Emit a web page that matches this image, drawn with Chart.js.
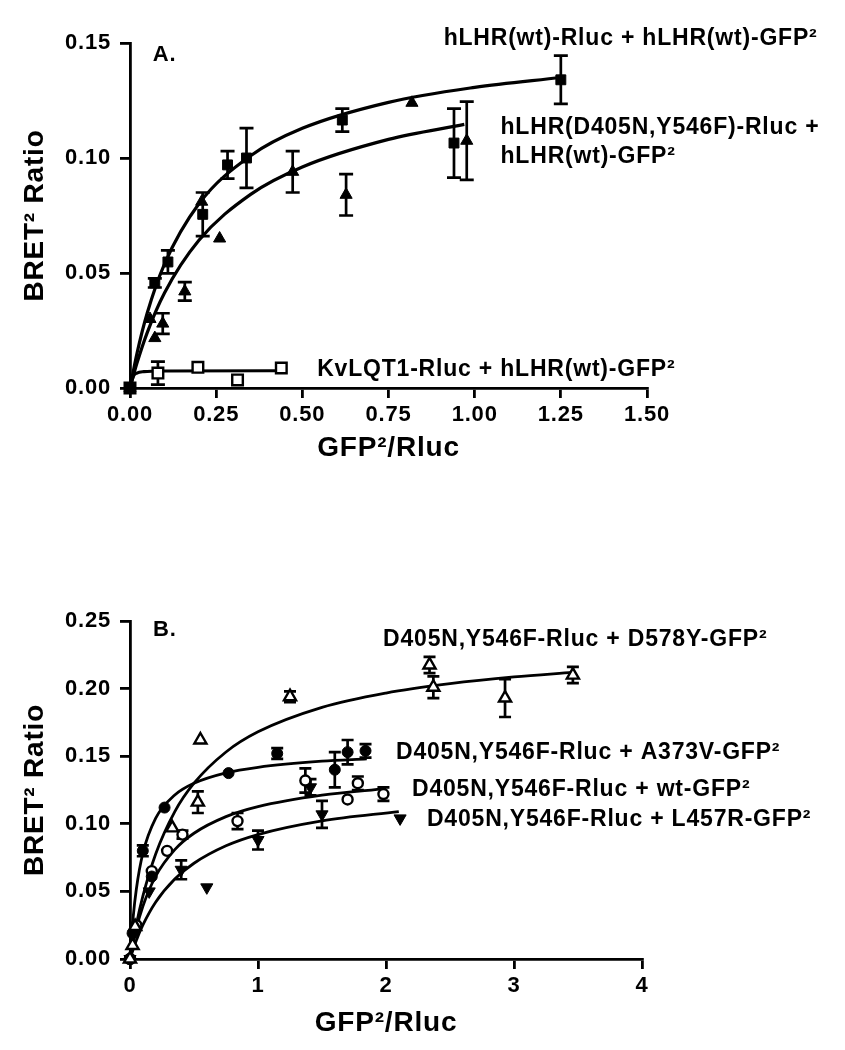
<!DOCTYPE html>
<html>
<head>
<meta charset="utf-8">
<script src="https://cdn.jsdelivr.net/npm/chart.js@4.4.1/dist/chart.umd.min.js"></script>
<style>
  html, body { margin: 0; padding: 0; background: #fff; }
  #wrapA { position: absolute; left: 0; top: 0; width: 845px; height: 480px; }
  #wrapB { position: absolute; left: 0; top: 560px; width: 845px; height: 490px; }
</style>
</head>
<body>
<div id="wrapA"><canvas id="chartA" width="845" height="480"></canvas></div>
<div id="wrapB"><canvas id="chartB" width="845" height="490"></canvas></div>
<script>
// ---------- Panel A data ----------
const aXTicks = [0, 0.25, 0.5, 0.75, 1.0, 1.25, 1.5];
const aYTicks = [0, 0.05, 0.10, 0.15];

const wtX   = [0, 0.072, 0.11, 0.211, 0.283, 0.338, 0.616, 0.94, 1.25];
const wtY   = [0, 0.0457, 0.0548, 0.0755, 0.097, 0.100, 0.1165, 0.1065, 0.134];
const wtErr = [0, 0.002, 0.005, 0.0095, 0.006, 0.013, 0.005, 0.015, 0.0105];

const mutX   = [0, 0.058, 0.072, 0.095, 0.159, 0.208, 0.26, 0.472, 0.627, 0.818, 0.977];
const mutY   = [0, 0.030, 0.0217, 0.028, 0.042, 0.081, 0.065, 0.094, 0.084, 0.124, 0.1075];
const mutErr = [0, 0, 0, 0.0045, 0.004, 0, 0, 0.009, 0.009, 0, 0.017];

const kvX   = [0, 0.081, 0.197, 0.312, 0.439];
const kvY   = [0, 0.0065, 0.009, 0.0035, 0.0087];
const kvErr = [0, 0.005, 0, 0, 0];

// fitted curves
const wtFitX  = [0, 0.02, 0.05, 0.1, 0.2, 0.35, 0.5, 0.75, 1.0, 1.25];
const wtFitY  = [0, 0.0149, 0.0326, 0.0539, 0.0801, 0.1010, 0.1129, 0.1242, 0.1307, 0.1350];
const mutFitX = [0, 0.02, 0.05, 0.1, 0.2, 0.35, 0.5, 0.75, 0.97];
const mutFitY = [0, 0.0107, 0.0241, 0.0413, 0.0642, 0.0842, 0.0961, 0.1081, 0.1146];
const kvFitX  = [0, 0.01, 0.02, 0.04, 0.1, 0.44];
const kvFitY  = [0, 0.0052, 0.0065, 0.0071, 0.0074, 0.0075];

const aLabels = ['A.', 'hLHR(wt)-Rluc + hLHR(wt)-GFP²', 'hLHR(D405N,Y546F)-Rluc +', 'hLHR(wt)-GFP²', 'KvLQT1-Rluc + hLHR(wt)-GFP²'];

// ---------- Panel B data ----------
const bXTicks = [0, 1, 2, 3, 4];
const bYTicks = [0, 0.05, 0.10, 0.15, 0.20, 0.25];

const d578X   = [0, 0.02, 0.04, 0.33, 0.53, 0.55, 1.25, 2.34, 2.37, 2.93, 3.46];
const d578Y   = [0, 0.010, 0.024, 0.097, 0.116, 0.162, 0.194, 0.2175, 0.201, 0.193, 0.210];
const d578Err = [0, 0, 0, 0, 0.008, 0, 0.004, 0.006, 0.008, 0.014, 0.006];

const a373X   = [0, 0.02, 0.10, 0.17, 0.27, 0.77, 1.15, 1.60, 1.70, 1.84];
const a373Y   = [0, 0.019, 0.080, 0.061, 0.112, 0.1375, 0.152, 0.140, 0.153, 0.154];
const a373Err = [0, 0, 0.004, 0, 0, 0, 0.004, 0.013, 0.009, 0.005];

const wtbX   = [0, 0.05, 0.17, 0.29, 0.41, 0.84, 1.37, 1.70, 1.78, 1.98];
const wtbY   = [0, 0.025, 0.065, 0.080, 0.092, 0.102, 0.132, 0.118, 0.130, 0.122];
const wtbErr = [0, 0, 0, 0, 0.003, 0.006, 0.009, 0, 0.005, 0.005];

const l457X   = [0, 0.05, 0.15, 0.40, 0.60, 1.00, 1.41, 1.50, 2.11];
const l457Y   = [0, 0.022, 0.050, 0.066, 0.053, 0.088, 0.127, 0.107, 0.104];
const l457Err = [0, 0, 0, 0.007, 0, 0.007, 0.006, 0.010, 0];

const d578FitX = [0, 0.05, 0.1, 0.2, 0.35, 0.5, 0.75, 1.0, 1.5, 2.0, 2.5, 3.0, 3.46];
const d578FitY = [0, 0.0257, 0.0463, 0.0775, 0.1090, 0.1300, 0.1531, 0.1680, 0.1861, 0.1967, 0.2036, 0.2086, 0.2120];
const a373FitX = [0, 0.025, 0.05, 0.1, 0.2, 0.35, 0.5, 0.75, 1.0, 1.5, 1.85];
const a373FitY = [0, 0.0312, 0.0520, 0.0780, 0.1040, 0.1213, 0.1300, 0.1377, 0.1418, 0.1463, 0.1480];
const wtbFitX  = [0, 0.05, 0.1, 0.2, 0.35, 0.5, 0.75, 1.0, 1.5, 2.0];
const wtbFitY  = [0, 0.0225, 0.0388, 0.0611, 0.0809, 0.0930, 0.1053, 0.1127, 0.1212, 0.1260];
const l457FitX = [0, 0.05, 0.1, 0.2, 0.35, 0.5, 0.75, 1.0, 1.5, 2.1];
const l457FitY = [0, 0.0138, 0.0250, 0.0420, 0.0592, 0.0708, 0.0837, 0.0920, 0.1021, 0.1090];

const bLabels = ['B.', 'D405N,Y546F-Rluc + D578Y-GFP²', 'D405N,Y546F-Rluc + A373V-GFP²', 'D405N,Y546F-Rluc + wt-GFP²', 'D405N,Y546F-Rluc + L457R-GFP²'];

// ---------- helpers ----------
const FONT = '"Liberation Sans", Arial, Helvetica, sans-serif';
Chart.defaults.font.family = FONT;
Chart.defaults.font.weight = 'bold';
Chart.defaults.color = '#000';

function pts(xs, ys) { return xs.map((x, i) => ({ x: x, y: ys[i] })); }

function pointSet(xs, ys, errs, style, radius, filled, rot) {
  return {
    type: 'scatter',
    data: pts(xs, ys),
    errors: errs,
    showLine: false,
    pointStyle: style,
    pointRadius: radius,
    pointHoverRadius: radius,
    pointRotation: rot || 0,
    pointBackgroundColor: filled ? '#000' : '#fff',
    pointBorderColor: '#000',
    pointBorderWidth: filled ? 1 : 2.4,
    clip: false,
    order: 0
  };
}
function curveSet(xs, ys, w) {
  return {
    type: 'scatter',
    data: pts(xs, ys),
    showLine: true,
    borderColor: '#000',
    borderWidth: w,
    pointRadius: 0,
    pointHoverRadius: 0,
    cubicInterpolationMode: 'monotone',
    fill: false,
    clip: false,
    order: 1
  };
}

const errorBars = {
  id: 'errorBars',
  beforeDatasetsDraw(chart, args, opts) {
    const { ctx, scales: { x, y } } = chart;
    ctx.save();
    ctx.strokeStyle = '#000';
    ctx.lineWidth = opts.width || 2.5;
    const cap = opts.cap || 7;
    chart.data.datasets.forEach(ds => {
      if (!ds.errors) return;
      ds.data.forEach((p, i) => {
        const e = ds.errors[i];
        if (!e) return;
        const px = x.getPixelForValue(p.x);
        const yt = y.getPixelForValue(p.y + e);
        const yb = y.getPixelForValue(p.y - e);
        ctx.beginPath();
        ctx.moveTo(px, yt); ctx.lineTo(px, yb);
        ctx.moveTo(px - cap, yt); ctx.lineTo(px + cap, yt);
        ctx.moveTo(px - cap, yb); ctx.lineTo(px + cap, yb);
        ctx.stroke();
      });
    });
    ctx.restore();
  }
};

const textLabels = {
  id: 'textLabels',
  beforeDraw(chart) { chart.ctx.letterSpacing = '0.8px'; },
  afterDatasetsDraw(chart, args, opts) {
    const { ctx, scales: { x, y } } = chart;
    ctx.save();
    ctx.fillStyle = '#000';
    ctx.textAlign = 'left';
    ctx.textBaseline = 'middle';
    ctx.letterSpacing = '0.8px';
    (opts.items || []).forEach(it => {
      ctx.font = 'bold ' + it.size + 'px ' + FONT;
      ctx.fillText(it.text, x.getPixelForValue(it.x), y.getPixelForValue(it.y));
    });
    ctx.restore();
  }
};

function xAxis(ticks, fmt, boxH, titlePad) {
  return {
    type: 'linear',
    min: ticks[0], max: ticks[ticks.length - 1],
    afterBuildTicks(scale) { scale.ticks = ticks.map(v => ({ value: v })); },
    ticks: { callback: fmt, font: { size: 22, weight: 'bold' }, color: '#000', padding: 4, maxRotation: 0, autoSkip: false },
    grid: { display: true, drawOnChartArea: false, drawTicks: true, tickLength: 10, tickColor: '#000', tickWidth: 2.8, color: '#000', lineWidth: 2.8 },
    border: { display: true, color: '#000', width: 2.8 },
    title: { display: true, text: 'GFP²/Rluc', font: { size: 28, weight: 'bold' }, color: '#000', padding: { top: 0, bottom: titlePad } },
    afterFit(scale) { scale.height = boxH; }
  };
}
function yAxis(ticks, fmt) {
  return {
    type: 'linear',
    min: ticks[0], max: ticks[ticks.length - 1],
    afterBuildTicks(scale) { scale.ticks = ticks.map(v => ({ value: v })); },
    ticks: { callback: fmt, font: { size: 22, weight: 'bold' }, color: '#000', padding: 9, autoSkip: false },
    grid: { display: true, drawOnChartArea: false, drawTicks: true, tickLength: 10, tickColor: '#000', tickWidth: 2.8, color: '#000', lineWidth: 2.8 },
    border: { display: true, color: '#000', width: 2.8 },
    title: { display: true, text: 'BRET² Ratio', font: { size: 28, weight: 'bold' }, color: '#000', padding: { top: 18, bottom: 0 } },
    afterFit(scale) { scale.width = 130; }
  };
}

const fmt2 = v => Number(v).toFixed(2);
const fmt0 = v => Number(v).toFixed(0);

// ---------- Panel A ----------
new Chart(document.getElementById('chartA'), {
  type: 'scatter',
  data: {
    datasets: [
      curveSet(wtFitX, wtFitY, 3.2),
      curveSet(mutFitX, mutFitY, 3.2),
      curveSet(kvFitX, kvFitY, 3.2),
      pointSet(wtX, wtY, wtErr, 'rect', 7, true),
      pointSet(mutX, mutY, mutErr, 'triangle', 7, true),
      pointSet(kvX, kvY, kvErr, 'rect', 7.5, false)
    ]
  },
  options: {
    responsive: false,
    animation: false,
    devicePixelRatio: 1,
    layout: { padding: { top: 43, right: 198, bottom: 0, left: 0 } },
    plugins: {
      legend: { display: false },
      tooltip: { enabled: false },
      errorBars: { width: 2.7, cap: 7 },
      textLabels: {
        items: [
          { text: aLabels[0], x: 0.066, y: 0.145, size: 22 },
          { text: aLabels[1], x: 0.910, y: 0.152, size: 23 },
          { text: aLabels[2], x: 1.075, y: 0.113, size: 23 },
          { text: aLabels[3], x: 1.075, y: 0.1004, size: 23 },
          { text: aLabels[4], x: 0.543, y: 0.0078, size: 23 }
        ]
      }
    },
    scales: {
      x: xAxis(aXTicks, fmt2, 92, 15),
      y: yAxis(aYTicks, fmt2)
    }
  },
  plugins: [errorBars, textLabels]
});

// ---------- Panel B ----------
new Chart(document.getElementById('chartB'), {
  type: 'scatter',
  data: {
    datasets: [
      curveSet(d578FitX, d578FitY, 2.8),
      curveSet(a373FitX, a373FitY, 2.8),
      curveSet(wtbFitX, wtbFitY, 2.8),
      curveSet(l457FitX, l457FitY, 2.8),
      pointSet(d578X, d578Y, d578Err, 'triangle', 7, false),
      pointSet(a373X, a373Y, a373Err, 'circle', 5.5, true),
      pointSet(wtbX, wtbY, wtbErr, 'circle', 5, false),
      pointSet(l457X, l457Y, l457Err, 'triangle', 7, true, 180)
    ]
  },
  options: {
    responsive: false,
    animation: false,
    devicePixelRatio: 1,
    layout: { padding: { top: 61, right: 203, bottom: 0, left: 0 } },
    plugins: {
      legend: { display: false },
      tooltip: { enabled: false },
      errorBars: { width: 2.7, cap: 6 },
      textLabels: {
        items: [
          { text: bLabels[0], x: 0.18, y: 0.2433, size: 22 },
          { text: bLabels[1], x: 1.977, y: 0.236, size: 23 },
          { text: bLabels[2], x: 2.078, y: 0.1524, size: 23 },
          { text: bLabels[3], x: 2.203, y: 0.125, size: 23 },
          { text: bLabels[4], x: 2.32, y: 0.1028, size: 23 }
        ]
      }
    },
    scales: {
      x: xAxis(bXTicks, fmt0, 91, 10),
      y: yAxis(bYTicks, fmt2)
    }
  },
  plugins: [errorBars, textLabels]
});
</script>
</body>
</html>
